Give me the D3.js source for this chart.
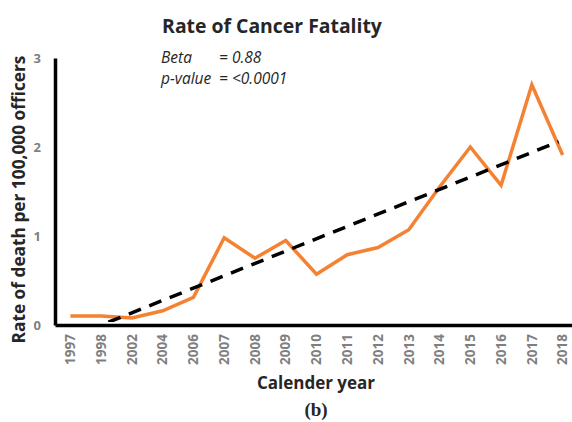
<!DOCTYPE html>
<html>
<head>
<meta charset="utf-8">
<script src="https://cdn.jsdelivr.net/npm/d3@7"></script>
<style>
  body { margin: 0; background: #fff; }
  svg { display: block; }
</style>
</head>
<body>
<div id="chart"></div>
<script>
// Data
const years = ["1997", "1998", "2002", "2004", "2006", "2007", "2008", "2009", "2010",
               "2011", "2012", "2013", "2014", "2015", "2016", "2017", "2018"];
const rates = [0.10, 0.10, 0.08, 0.16, 0.31, 0.98, 0.75, 0.95, 0.57,
               0.79, 0.87, 1.07, 1.55, 2.00, 1.57, 2.70, 1.91];
// linear trend (value = intercept + slope * index), clipped at 0
const trendIntercept = -0.14;
const trendSlope = 0.1375;
const yTicks = [0, 1, 2, 3];
const statLabels = ["Beta", "p-value"];
const statValues = ["= 0.88", "= <0.0001"];

const width = 572, height = 422;
const margin = {top: 58, right: -6, bottom: 97, left: 55};
const font = "'Open Sans', Lato, sans-serif";

const svg = d3.select("#chart").append("svg")
  .attr("width", width)
  .attr("height", height);

const x = d3.scaleBand()
  .domain(years)
  .range([margin.left, width - margin.right]);

const y = d3.scaleLinear()
  .domain([0, 3])
  .range([height - margin.bottom, margin.top]);

const cx = d => x(d) + x.bandwidth() / 2;

// Title
svg.append("text")
  .attr("x", 272).attr("y", 33)
  .attr("text-anchor", "middle")
  .attr("font-family", font)
  .attr("font-weight", "bold")
  .attr("font-size", 19.4)
  .attr("fill", "#262626")
  .text("Rate of Cancer Fatality");

// stats annotation
const stats = svg.append("g")
  .attr("font-family", font)
  .attr("font-style", "italic")
  .attr("font-size", 15.5)
  .attr("fill", "#262626");
statLabels.forEach((s, i) => {
  stats.append("text").attr("x", 161).attr("y", 63 + i * 21).text(s);
  stats.append("text").attr("x", 219).attr("y", 63 + i * 21).text(statValues[i]);
});

// clip for the trend line (stays above zero)
svg.append("clipPath").attr("id", "plotclip")
  .append("rect")
  .attr("x", margin.left).attr("y", margin.top)
  .attr("width", width - margin.left)
  .attr("height", y(0) - margin.top - 3);

// data line
const line = d3.line()
  .x((d, i) => cx(years[i]))
  .y(d => y(d));

svg.append("path")
  .datum(rates)
  .attr("fill", "none")
  .attr("stroke", "#F58232")
  .attr("stroke-width", 3.5)
  .attr("stroke-linejoin", "miter")
  .attr("d", line);

// trend line
const trend = [0, years.length - 1].map(i => trendIntercept + trendSlope * i);
svg.append("path")
  .datum(trend)
  .attr("clip-path", "url(#plotclip)")
  .attr("fill", "none")
  .attr("stroke", "#000")
  .attr("stroke-width", 3.5)
  .attr("stroke-dasharray", "13,9")
  .attr("stroke-dashoffset", 3)
  .attr("d", d3.line()
    .x((d, i) => cx(years[i === 0 ? 0 : years.length - 1]) - (i === 0 ? 0 : 4))
    .y(d => y(d)));

// y axis
const yAxis = svg.append("g")
  .attr("transform", `translate(${margin.left},0)`)
  .call(d3.axisLeft(y).tickValues(yTicks).tickFormat(d3.format("d")).tickSize(0).tickPadding(14));
yAxis.select(".domain").attr("stroke", "#000").attr("stroke-width", 3.5);
yAxis.selectAll("text")
  .attr("font-family", font)
  .attr("font-weight", "bold")
  .attr("font-size", 13)
  .attr("fill", "#7f7f7f");

// x axis
const xAxis = svg.append("g")
  .attr("transform", `translate(0,${y(0)})`)
  .call(d3.axisBottom(x).tickSize(0));
xAxis.select(".domain").attr("stroke", "#000").attr("stroke-width", 3.5);
xAxis.selectAll("text")
  .attr("font-family", font)
  .attr("font-weight", "bold")
  .attr("font-size", 13.5)
  .attr("fill", "#7f7f7f")
  .attr("text-anchor", "end")
  .attr("dy", "0.35em")
  .attr("transform", "translate(0,9) rotate(-90)")
  .attr("x", 0).attr("y", 0);

// axis titles
svg.append("text")
  .attr("transform", `translate(25,${(margin.top + y(0)) / 2 + 8}) rotate(-90)`)
  .attr("text-anchor", "middle")
  .attr("font-family", font)
  .attr("font-weight", "bold")
  .attr("font-size", 17.3)
  .attr("fill", "#262626")
  .text("Rate of death per 100,000 officers");

svg.append("text")
  .attr("x", 316).attr("y", 389)
  .attr("text-anchor", "middle")
  .attr("font-family", font)
  .attr("font-weight", "bold")
  .attr("font-size", 17)
  .attr("fill", "#262626")
  .text("Calender year");

svg.append("text")
  .attr("x", 316).attr("y", 416)
  .attr("text-anchor", "middle")
  .attr("font-family", "'Liberation Serif', 'Times New Roman', serif")
  .attr("font-weight", "bold")
  .attr("font-size", 19)
  .attr("fill", "#262626")
  .text("(b)");
</script>
</body>
</html>
